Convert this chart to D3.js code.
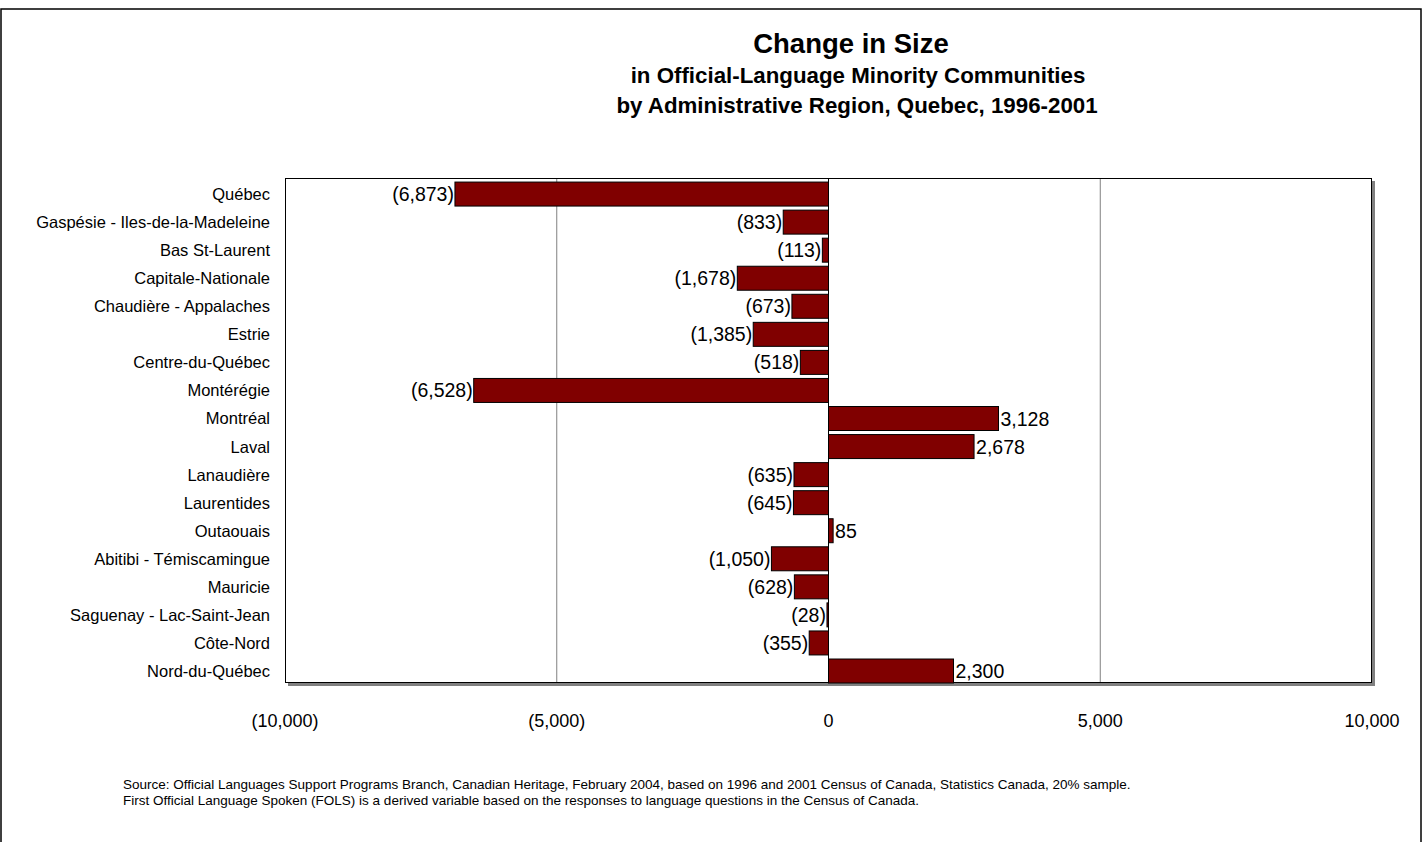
<!DOCTYPE html>
<html>
<head>
<meta charset="utf-8">
<script src="https://cdn.jsdelivr.net/npm/d3@7"></script>
<style>
  html, body { margin: 0; padding: 0; background: #fff; }
  svg { display: block; font-family: "Liberation Sans", Arial, sans-serif; }
</style>
</head>
<body>
<svg id="chart" width="1426" height="842"></svg>
<script>
const categories = [
  "Québec", "Gaspésie - Iles-de-la-Madeleine", "Bas St-Laurent", "Capitale-Nationale",
  "Chaudière - Appalaches", "Estrie", "Centre-du-Québec", "Montérégie", "Montréal",
  "Laval", "Lanaudière", "Laurentides", "Outaouais", "Abitibi - Témiscamingue",
  "Mauricie", "Saguenay - Lac-Saint-Jean", "Côte-Nord", "Nord-du-Québec"
];
const values = [
  -6873, -833, -113, -1678, -673, -1385, -518, -6528, 3128,
  2678, -635, -645, 85, -1050, -628, -28, -355, 2300
];
const xTicks = [-10000, -5000, 0, 5000, 10000];
const gridValues = [-5000, 5000];
const titleLines = [
  "Change in Size",
  "in Official-Language Minority Communities",
  "by Administrative Region, Quebec, 1996-2001"
];
const footerLines = [
  "Source: Official Languages Support Programs Branch, Canadian Heritage, February 2004, based on 1996 and 2001 Census of Canada, Statistics Canada, 20% sample.",
  "First Official Language Spoken (FOLS) is a derived variable based on the responses to language questions in the Census of Canada."
];

const svg = d3.select("#chart");
const plot = { left: 285, right: 1372, top: 178, bottom: 683 };

const fmt = d3.format(",");
const numLabel = v => v < 0 ? "(" + fmt(-v) + ")" : fmt(v);

const x = d3.scaleLinear().domain([-10000, 10000]).range([plot.left, plot.right]);
const y = d3.scaleBand().domain(categories).range([plot.top, plot.bottom]).padding(0);
const barH = y.bandwidth() * 0.855;
const barOff = y.bandwidth() - barH;

// outer frame
svg.append("rect").attr("x", 1).attr("y", 9).attr("width", 1420).attr("height", 845)
  .attr("fill", "none").attr("stroke", "#000").attr("stroke-width", 1.5);

// title
const tSizes = [27.5, 22.3, 22.3];
const tY = [53, 83, 113];
const tX = [851, 858, 857];
titleLines.forEach((t, i) => {
  svg.append("text").attr("x", tX[i]).attr("y", tY[i]).attr("text-anchor", "middle")
    .attr("font-weight", "bold").attr("font-size", tSizes[i]).attr("fill", "#000").text(t);
});

// plot shadow
svg.append("rect").attr("x", plot.left + 3).attr("y", plot.top + 3)
  .attr("width", plot.right - plot.left).attr("height", plot.bottom - plot.top)
  .attr("fill", "#808080");
svg.append("rect").attr("x", plot.left).attr("y", plot.top)
  .attr("width", plot.right - plot.left).attr("height", plot.bottom - plot.top)
  .attr("fill", "#fff");

// gridlines
svg.append("g").selectAll("line").data(gridValues).join("line")
  .attr("x1", d => x(d)).attr("x2", d => x(d))
  .attr("y1", plot.top).attr("y2", plot.bottom)
  .attr("stroke", "#808080").attr("stroke-width", 1);

// plot border
svg.append("rect").attr("x", plot.left + 0.5).attr("y", plot.top + 0.5)
  .attr("width", plot.right - plot.left - 1).attr("height", plot.bottom - plot.top - 1)
  .attr("fill", "none").attr("stroke", "#000").attr("stroke-width", 1);

// bars
svg.append("g").selectAll("rect").data(categories).join("rect")
  .attr("x", (d, i) => Math.min(x(0), x(values[i])))
  .attr("y", d => y(d) + barOff)
  .attr("width", (d, i) => Math.abs(x(values[i]) - x(0)))
  .attr("height", barH)
  .attr("fill", "#800000").attr("stroke", "#000").attr("stroke-width", 1);

// zero axis line
svg.append("line").attr("x1", x(0)).attr("x2", x(0))
  .attr("y1", plot.top).attr("y2", plot.bottom)
  .attr("stroke", "#000").attr("stroke-width", 1);

// value labels
svg.append("g").selectAll("text").data(categories).join("text")
  .attr("x", (d, i) => values[i] < 0 ? x(values[i]) - 1 : x(values[i]) + 2)
  .attr("y", d => y(d) + barOff + barH / 2)
  .attr("dy", "0.36em")
  .attr("text-anchor", (d, i) => values[i] < 0 ? "end" : "start")
  .attr("font-size", 19.5).attr("fill", "#000")
  .text((d, i) => numLabel(values[i]));

// category labels
svg.append("g").selectAll("text").data(categories).join("text")
  .attr("x", 270)
  .attr("y", d => y(d) + barOff + barH / 2)
  .attr("dy", "0.36em")
  .attr("text-anchor", "end")
  .attr("font-size", 16.5).attr("fill", "#000")
  .text(d => d);

// x axis tick labels
svg.append("g").selectAll("text").data(xTicks).join("text")
  .attr("x", d => x(d)).attr("y", 727)
  .attr("text-anchor", "middle")
  .attr("font-size", 18).attr("fill", "#000")
  .text(d => numLabel(d));

// footer
footerLines.forEach((t, i) => {
  svg.append("text").attr("x", 123).attr("y", 789 + i * 16)
    .attr("font-size", 13.5).attr("fill", "#000").text(t);
});
</script>
</body>
</html>
